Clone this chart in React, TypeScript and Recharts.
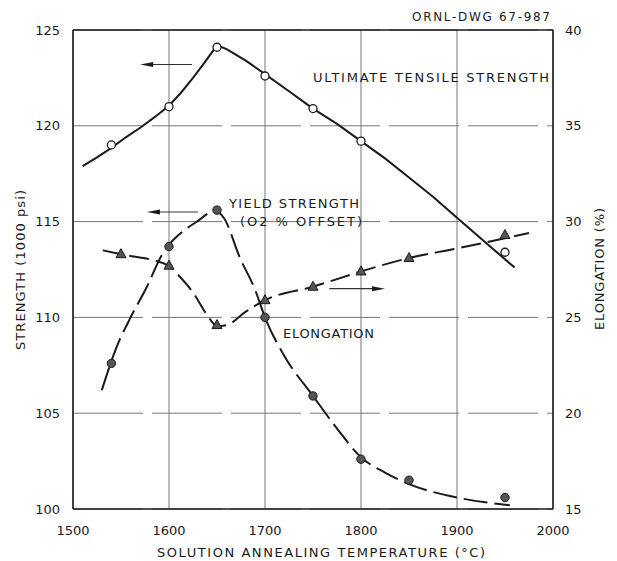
import {
  ComposedChart,
  Line,
  Scatter,
  XAxis,
  YAxis,
  CartesianGrid,
  ReferenceLine
} from 'recharts'

const temperatureTicks = [1500, 1600, 1700, 1800, 1900, 2000]
const strengthTicks = [100, 105, 110, 115, 120, 125]
const elongationTicks = [15, 20, 25, 30, 35, 40]

// measured points
const ultimatePoints = [
  { t: 1540, v: 119.0 },
  { t: 1600, v: 121.0 },
  { t: 1650, v: 124.1 },
  { t: 1700, v: 122.6 },
  { t: 1750, v: 120.9 },
  { t: 1800, v: 119.2 },
  { t: 1950, v: 113.4 }
]

const yieldPoints = [
  { t: 1540, v: 107.6 },
  { t: 1600, v: 113.7 },
  { t: 1650, v: 115.6 },
  { t: 1700, v: 110.0 },
  { t: 1750, v: 105.9 },
  { t: 1800, v: 102.6 },
  { t: 1850, v: 101.5 },
  { t: 1950, v: 100.6 }
]

const elongationPoints = [
  { t: 1550, v: 28.3 },
  { t: 1600, v: 27.7 },
  { t: 1650, v: 24.6 },
  { t: 1700, v: 25.9 },
  { t: 1750, v: 26.6 },
  { t: 1800, v: 27.4 },
  { t: 1850, v: 28.1 },
  { t: 1950, v: 29.3 }
]

// hand-drawn fit curves
const ultimateCurve = [
  { t: 1510, v: 117.9 },
  { t: 1525, v: 118.35 },
  { t: 1540, v: 118.85 },
  { t: 1555, v: 119.4 },
  { t: 1570, v: 119.9 },
  { t: 1585, v: 120.45 },
  { t: 1600, v: 121.05 },
  { t: 1612, v: 121.7 },
  { t: 1625, v: 122.5 },
  { t: 1637, v: 123.3 },
  { t: 1650, v: 124.2 },
  { t: 1660, v: 124.0 },
  { t: 1680, v: 123.4 },
  { t: 1700, v: 122.7 },
  { t: 1725, v: 121.8 },
  { t: 1750, v: 120.9 },
  { t: 1775, v: 120.1 },
  { t: 1800, v: 119.2 },
  { t: 1825, v: 118.3 },
  { t: 1850, v: 117.3 },
  { t: 1875, v: 116.3 },
  { t: 1900, v: 115.2 },
  { t: 1930, v: 113.9 },
  { t: 1960, v: 112.6 }
]

const yieldCurve = [
  { t: 1530, v: 106.2 },
  { t: 1545, v: 108.4 },
  { t: 1560, v: 110.0 },
  { t: 1577, v: 111.6 },
  { t: 1592, v: 113.2 },
  { t: 1600, v: 113.8 },
  { t: 1610, v: 114.3 },
  { t: 1629, v: 115.0 },
  { t: 1648, v: 115.55 },
  { t: 1657, v: 115.2 },
  { t: 1674, v: 113.1 },
  { t: 1690, v: 111.4 },
  { t: 1700, v: 110.0 },
  { t: 1720, v: 108.0 },
  { t: 1750, v: 105.9 },
  { t: 1775, v: 104.2 },
  { t: 1800, v: 102.7 },
  { t: 1825, v: 101.9 },
  { t: 1850, v: 101.3 },
  { t: 1900, v: 100.6 },
  { t: 1955, v: 100.2 }
]

const elongationCurve = [
  { t: 1531, v: 28.5 },
  { t: 1550, v: 28.3 },
  { t: 1600, v: 27.7 },
  { t: 1608, v: 27.3 },
  { t: 1625, v: 26.3 },
  { t: 1640, v: 25.1 },
  { t: 1650, v: 24.55 },
  { t: 1660, v: 24.6 },
  { t: 1680, v: 25.3 },
  { t: 1700, v: 25.9 },
  { t: 1750, v: 26.6 },
  { t: 1800, v: 27.4 },
  { t: 1850, v: 28.1 },
  { t: 1900, v: 28.6 },
  { t: 1975, v: 29.4 }
]

const FONT = '"DejaVu Sans", sans-serif'
const INK = '#1a1a1a'

const openCircle = (p: any) => (
  <circle cx={p.cx} cy={p.cy} r={4} fill="#fff" stroke={INK} strokeWidth={1.3} />
)

const filledCircle = (p: any) => (
  <circle cx={p.cx} cy={p.cy} r={4.2} fill="#555" stroke={INK} strokeWidth={1} />
)

const triangle = (p: any) => (
  <polygon
    points={`${p.cx},${p.cy - 5.5} ${p.cx - 5},${p.cy + 3.5} ${p.cx + 5},${p.cy + 3.5}`}
    fill="#555"
    stroke={INK}
    strokeWidth={1}
  />
)

// thin pointer arrow used to tie each curve to its axis
const arrow = (dir: 'left' | 'right') => (p: any) => {
  const lo = Math.min(p.x1, p.x2)
  const hi = Math.max(p.x1, p.x2)
  const y = p.y1
  const tip = dir === 'left' ? lo : hi
  const tail = dir === 'left' ? hi : lo
  const s = dir === 'left' ? 1 : -1
  return (
    <g>
      <line x1={tail} y1={y} x2={tip + s * 8} y2={y} stroke="#333" strokeWidth={1.2} />
      <polygon
        points={`${tip},${y} ${tip + s * 13},${y - 2.5} ${tip + s * 13},${y + 2.5}`}
        fill={INK}
      />
    </g>
  )
}

const textStyle = { fontFamily: FONT, fontSize: 13, fill: INK }
const tickStyle = { fontFamily: FONT, fontSize: 13, fill: INK }

export default function App() {
  return (
    <div
      style={{
        position: 'absolute',
        left: 0,
        top: 0,
        width: 617,
        height: 561,
        background: '#fff'
      }}
    >
      <ComposedChart
        width={617}
        height={561}
        margin={{ top: 30, right: 0, bottom: 0, left: 0 }}
        style={{ overflow: 'visible' }}
      >
        <CartesianGrid
          yAxisId="left"
          vertical={false}
          stroke="#777"
          strokeDasharray="70 9"
        />
        <CartesianGrid yAxisId="left" horizontal={false} stroke="#777" />
        <XAxis
          type="number"
          dataKey="t"
          domain={[1500, 2000]}
          ticks={temperatureTicks}
          height={52}
          tickLine={false}
          tickSize={6}
          tickMargin={11}
          axisLine={{ stroke: INK, strokeWidth: 1.5 }}
          tick={tickStyle}
        />
        <YAxis
          yAxisId="left"
          orientation="left"
          type="number"
          domain={[100, 125]}
          ticks={strengthTicks}
          width={73}
          tickLine={false}
          tickSize={8}
          tickMargin={5}
          axisLine={{ stroke: INK, strokeWidth: 1.5 }}
          tick={tickStyle}
        />
        <YAxis
          yAxisId="right"
          orientation="right"
          type="number"
          domain={[15, 40]}
          ticks={elongationTicks}
          width={64}
          tickLine={false}
          tickSize={8}
          tickMargin={4}
          axisLine={{ stroke: INK, strokeWidth: 1.5 }}
          tick={tickStyle}
        />
        <ReferenceLine yAxisId="left" y={125} stroke={INK} strokeWidth={1.5} />

        <Line
          yAxisId="left"
          data={ultimateCurve}
          dataKey="v"
          type="linear"
          stroke={INK}
          strokeWidth={2}
          dot={false}
          isAnimationActive={false}
        />
        <Line
          yAxisId="left"
          data={yieldCurve}
          dataKey="v"
          type="monotone"
          stroke={INK}
          strokeWidth={2}
          strokeDasharray="24 7"
          dot={false}
          isAnimationActive={false}
        />
        <Line
          yAxisId="right"
          data={elongationCurve}
          dataKey="v"
          type="monotone"
          stroke={INK}
          strokeWidth={2}
          strokeDasharray="20 7"
          dot={false}
          isAnimationActive={false}
        />

        <Scatter
          yAxisId="left"
          data={ultimatePoints}
          dataKey="v"
          shape={openCircle}
          isAnimationActive={false}
        />
        <Scatter
          yAxisId="left"
          data={yieldPoints}
          dataKey="v"
          shape={filledCircle}
          isAnimationActive={false}
        />
        <Scatter
          yAxisId="right"
          data={elongationPoints}
          dataKey="v"
          shape={triangle}
          isAnimationActive={false}
        />

        <ReferenceLine
          yAxisId="left"
          segment={[{ x: 1570, y: 123.2 }, { x: 1624, y: 123.2 }]}
          shape={arrow('left')}
        />
        <ReferenceLine
          yAxisId="left"
          segment={[{ x: 1577, y: 115.5 }, { x: 1630, y: 115.5 }]}
          shape={arrow('left')}
        />
        <ReferenceLine
          yAxisId="left"
          segment={[{ x: 1767, y: 111.5 }, { x: 1825, y: 111.5 }]}
          shape={arrow('right')}
        />

        <text x={412} y={21} textLength={138} lengthAdjust="spacing" style={{ ...textStyle, fontSize: 12 }}>
          ORNL-DWG  67-987
        </text>
        <text x={313} y={82} textLength={236} lengthAdjust="spacing" style={textStyle}>
          ULTIMATE  TENSILE  STRENGTH
        </text>
        <text x={229} y={208} textLength={130} lengthAdjust="spacing" style={textStyle}>
          YIELD  STRENGTH
        </text>
        <text x={240} y={226} textLength={122} lengthAdjust="spacing" style={textStyle}>
          (O2 %  OFFSET)
        </text>
        <text x={283} y={338} textLength={91} lengthAdjust="spacing" style={textStyle}>
          ELONGATION
        </text>
        <text
          x={157}
          y={557}
          textLength={328}
          lengthAdjust="spacing"
          style={textStyle}
        >
          SOLUTION  ANNEALING  TEMPERATURE  (°C)
        </text>
        <text
          transform="translate(25 270) rotate(-90)"
          x={-80}
          textLength={160}
          lengthAdjust="spacing"
          style={textStyle}
        >
          STRENGTH (1000 psi)
        </text>
        <text
          transform="translate(604 269) rotate(-90)"
          x={-61}
          textLength={122}
          lengthAdjust="spacing"
          style={textStyle}
        >
          ELONGATION (%)
        </text>
      </ComposedChart>
    </div>
  )
}
